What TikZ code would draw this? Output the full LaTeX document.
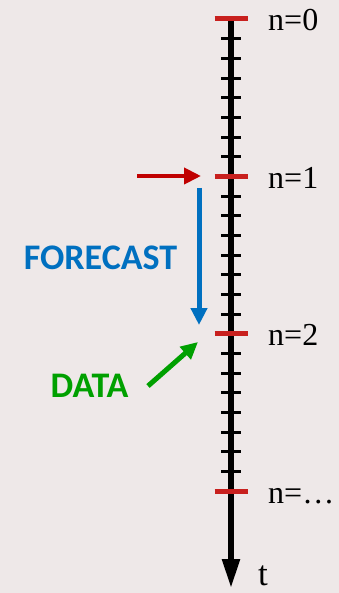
\documentclass[tikz,border=0pt]{standalone}
\usepackage{fontspec}
\newfontfamily\carlito{Carlito}
\newfontfamily\libserif{Liberation Serif}
\usetikzlibrary{arrows.meta, calc}
\definecolor{bgrose}{HTML}{EEE8E8}
\definecolor{tickred}{HTML}{C8201E}
\definecolor{darkred}{HTML}{C00000}
\definecolor{fcblue}{HTML}{0070C0}
\definecolor{dagreen}{HTML}{00A000}

\begin{document}
\begin{tikzpicture}[
  x=1pt, y=-1pt,
  axis/.style={-{Triangle[length=29pt, width=17pt]}, black, line width=5.5pt},
  minortick/.style={black, line width=3pt},
  majortick/.style={tickred, line width=5pt},
  hint/.style={line width=#1, -{Triangle[length=17pt, width=16pt]}},
  nlabel/.style={anchor=base west, inner sep=0pt, font=\libserif\fontsize{32}{32}\selectfont},
  word/.style={font=\carlito\bfseries\fontsize{36}{36}\selectfont},
]

% ===== Canvas =====
\fill[bgrose] (0,0) rectangle (339,593);
\useasboundingbox (0,0) rectangle (339,593);

% ===== Time axis =====
\coordinate (top) at (231,17);
\coordinate (tip) at (231,588);
\draw[axis] (top) -- (tip);

% Minor ticks, 8 steps between two red ones
\pgfmathsetmacro{\stp}{157.4/8}
\foreach \j in {1,...,23}{
  \pgfmathtruncatemacro{\r}{mod(\j,8)}
  \ifnum\r>0
    \draw[minortick] (221,{19+\j*\stp}) -- (241,{19+\j*\stp});
  \fi
}

% Red ticks with their labels
\foreach \k/\txt in {0/0, 1/1, 2/2, 3/\ldots}{
  \draw[majortick] (214.5,{19+\k*157.4}) -- (247.5,{19+\k*157.4});
  \node[nlabel] (lab\k) at (268,{31+\k*157.4}) {n=\txt};
}

\node[nlabel, font=\libserif\fontsize{35}{35}\selectfont] (tlab) at (258,585) {t};

% ===== Forecast / data arrows =====
\coordinate (inA) at (137,176);
\coordinate (inB) at (201,176);
\draw[hint=4pt, darkred] (inA) -- (inB);

\coordinate (fcA) at (199,188);
\coordinate (fcB) at (199,325);
\draw[hint=5pt, fcblue] (fcA) -- (fcB);
\node[word, fcblue] (fc) at (100.5,258) {FORECAST};

\coordinate (daA) at (148,386);
\coordinate (daB) at (198,342);
\draw[hint=5pt, dagreen] (daA) -- (daB);
\node[word, dagreen] (da) at (89.5,386) {DATA};

\end{tikzpicture}
\end{document}
